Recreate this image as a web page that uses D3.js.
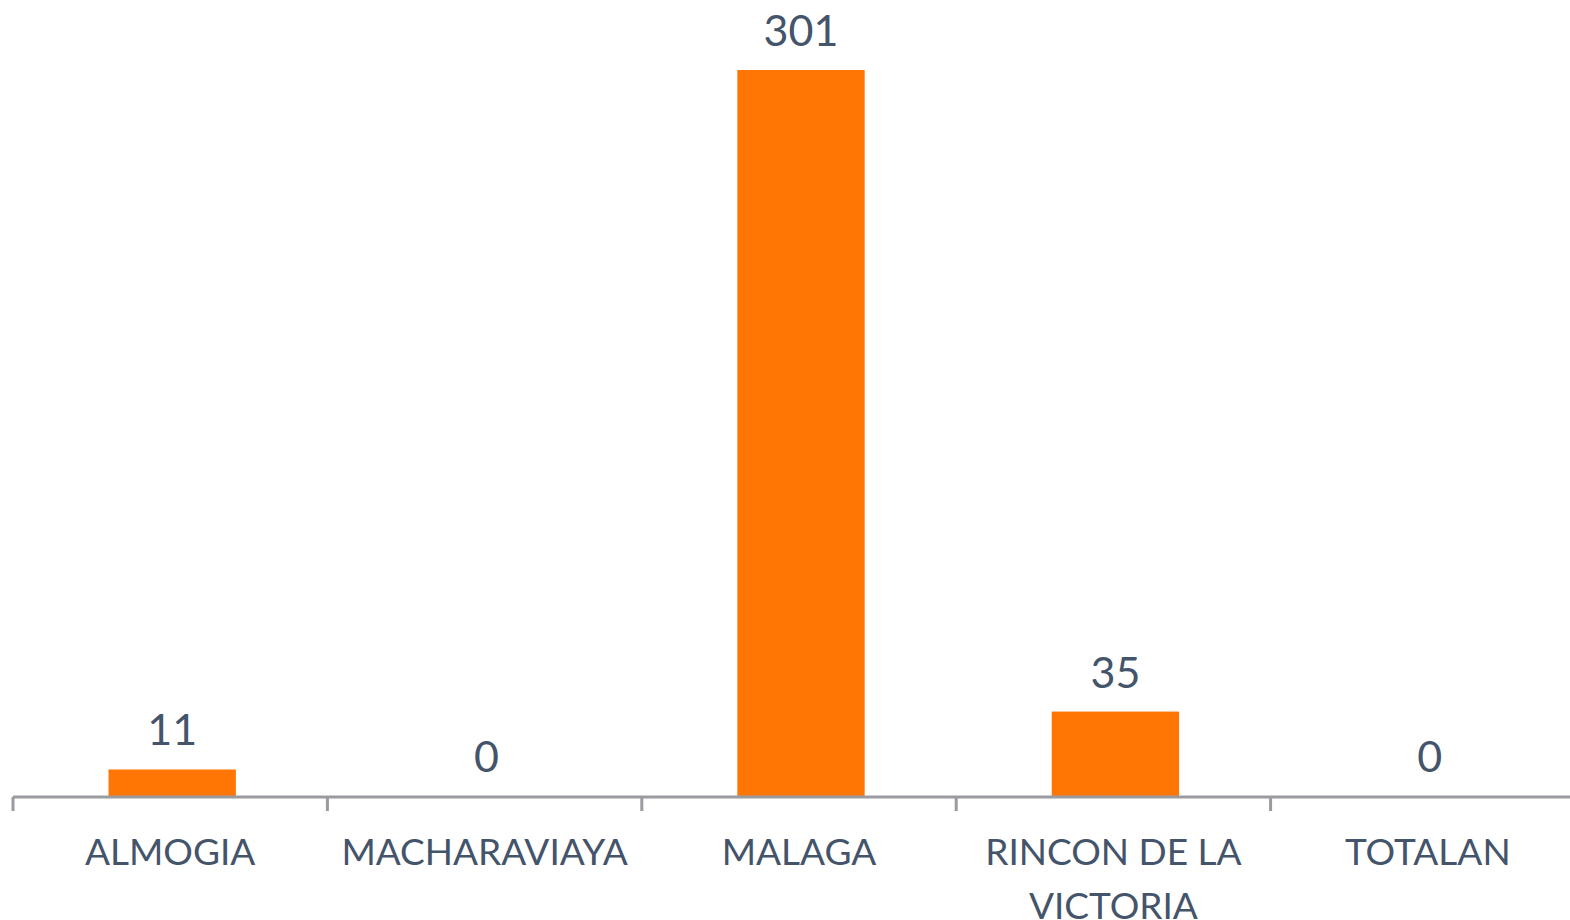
<!DOCTYPE html>
<html>
<head>
<meta charset="utf-8">
<script src="https://cdn.jsdelivr.net/npm/d3@7"></script>
<style>
  body { margin: 0; background: #fff; }
  svg { display: block; }
</style>
</head>
<body>
<div id="container"></div>
<script>
/* CONSTANTS AND GLOBALS */
const width = 1570,
  height = 920,
  margin = { top: 70, bottom: 124, left: 13, right: -15 };

// data
const municipios = ["ALMOGIA", "MACHARAVIAYA", "MALAGA", "RINCON DE LA VICTORIA", "TOTALAN"];
const valores = [11, 0, 301, 35, 0];

const barColor = "#FF7605",
  textColor = "#44546A",
  axisColor = "#999BA0";

const svg = d3.select("#container")
  .append("svg")
  .attr("width", width)
  .attr("height", height);

// bars sit a couple of pixels right of the band centre in the original
const x = d3.scaleBand()
  .domain(municipios)
  .range([margin.left + 2, width - margin.right + 2])
  .paddingInner(0.595)
  .paddingOuter(0.2975);

const y = d3.scaleLinear()
  .domain([0, 301])
  .range([height - margin.bottom, margin.top]);

// bars
svg.selectAll("rect.bar")
  .data(valores)
  .join("rect")
  .attr("class", "bar")
  .attr("x", (d, i) => x(municipios[i]))
  .attr("y", d => y(d))
  .attr("width", x.bandwidth())
  .attr("height", d => y(0) - y(d))
  .attr("fill", barColor);

// value labels
svg.selectAll("text.val")
  .data(valores)
  .join("text")
  .attr("class", "val")
  .attr("x", (d, i) => x(municipios[i]) + x.bandwidth() / 2)
  .attr("y", d => y(d) - 24)
  .attr("text-anchor", "middle")
  .attr("font-family", "Lato, 'Open Sans', sans-serif")
  .attr("font-size", 43)
  .attr("fill", textColor)
  .text(d => d);

// x axis: line + ticks at the band edges
const step = x.step();
const edges = d3.range(municipios.length + 1).map(i => margin.left + i * step);

svg.append("line")
  .attr("x1", margin.left)
  .attr("x2", width)
  .attr("y1", y(0) + 1)
  .attr("y2", y(0) + 1)
  .attr("stroke", axisColor)
  .attr("stroke-width", 3);

svg.selectAll("line.tick")
  .data(edges)
  .join("line")
  .attr("class", "tick")
  .attr("x1", d => d)
  .attr("x2", d => d)
  .attr("y1", y(0) + 1)
  .attr("y2", y(0) + 15)
  .attr("stroke", axisColor)
  .attr("stroke-width", 3);

// category labels, wrapped like the original
const lines = {
  "RINCON DE LA VICTORIA": ["RINCON DE LA", "VICTORIA"]
};

const labels = svg.selectAll("text.cat")
  .data(municipios)
  .join("text")
  .attr("class", "cat")
  .attr("text-anchor", "middle")
  .attr("font-family", "Lato, 'Open Sans', sans-serif")
  .attr("font-size", 37)
  .attr("fill", textColor);

labels.selectAll("tspan")
  .data(d => (lines[d] || [d]).map(t => ({ t, c: d })))
  .join("tspan")
  .attr("x", d => margin.left + municipios.indexOf(d.c) * step + step / 2)
  .attr("y", (d, i) => y(0) + 69 + i * 54)
  .text(d => d.t);
</script>
</body>
</html>
